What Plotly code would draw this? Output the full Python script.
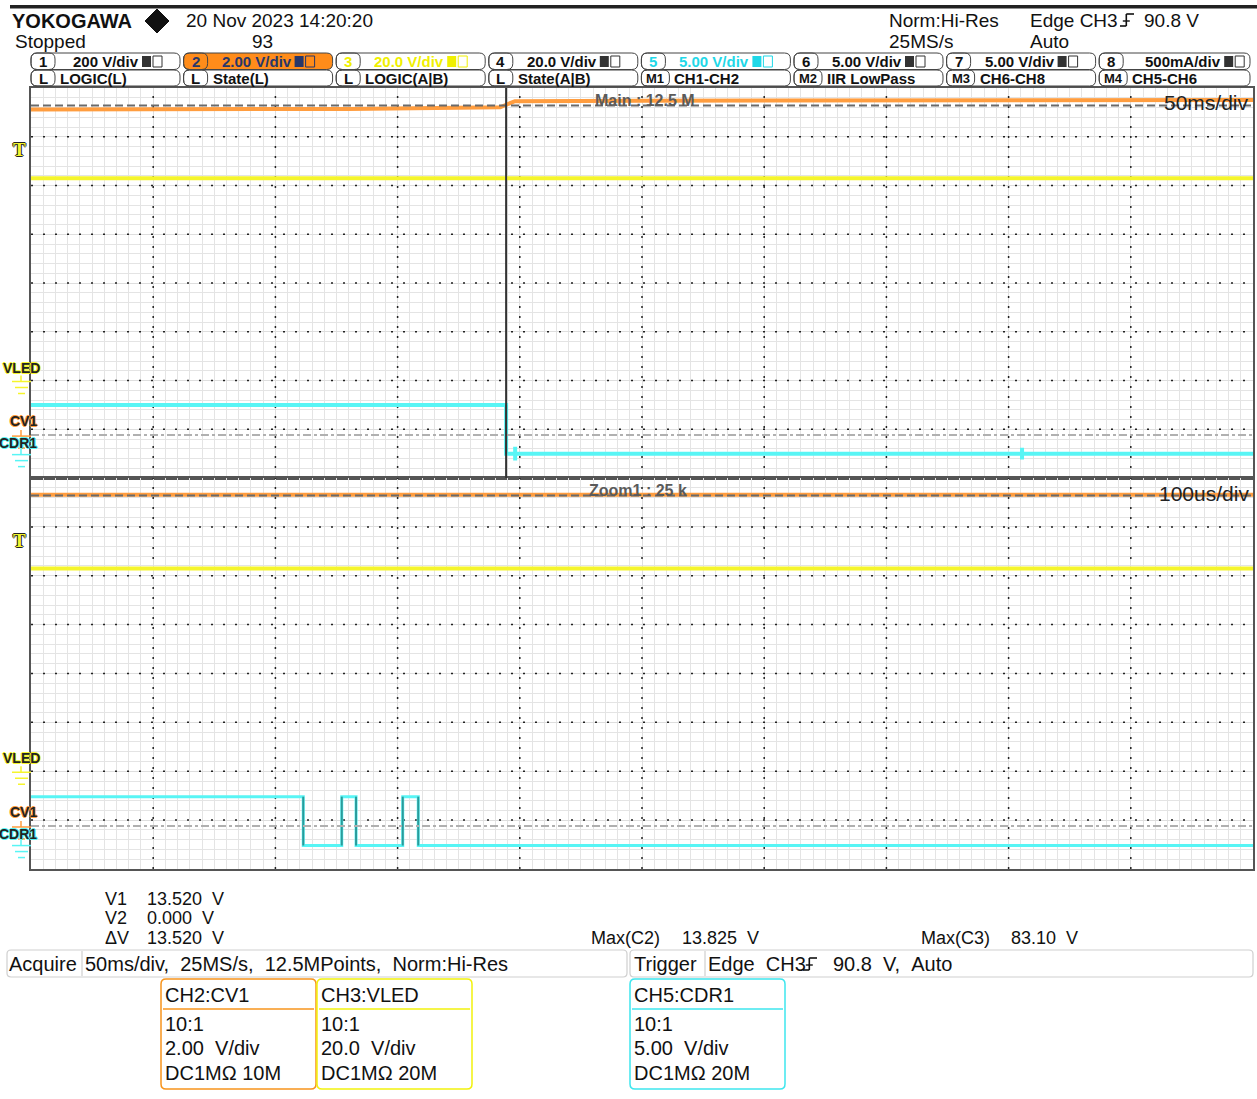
import plotly.graph_objects as go

W, H = 1257, 1099
SANS = "Liberation Sans, Arial, Helvetica, sans-serif"

# ---------------- data ----------------
# Main window (upper panel): time in ms, 50 ms/div
cv1_main_t = [-250.0, -120.0, -58.0, -52.0, 0.0, 250.0]
cv1_main_v = [13.36, 13.38, 13.45, 13.70, 13.72, 13.75]
vled_main_t = [-250.0, 250.0]
vled_main_v = [83.0, 83.0]
cdr1_main_t = [-250.0, -55.6, -55.6, -51.9, -51.9, -51.9, -51.9, 155.5, 155.5, 155.5, 155.5, 250.0]
cdr1_main_v = [5.0, 5.0, -0.02, -0.02, 0.7, -0.7, -0.02, -0.02, 0.6, -0.6, -0.02, -0.02]

# Zoom window (lower panel): time in us relative to zoom centre, 100 us/div
cv1_zoom_t = [-500.0, 500.0]
cv1_zoom_v = [13.55, 13.55]
vled_zoom_t = [-500.0, 500.0]
vled_zoom_v = [83.0, 83.0]
cdr1_zoom_t = [-500.0, -277.2, -277.2, -245.7, -245.7, -234.0, -234.0, -195.8, -195.8, -183.1, -183.1, 500.0]
cdr1_zoom_v = [4.9, 4.9, -0.1, -0.1, 4.9, 4.9, -0.1, -0.1, 4.9, 4.9, -0.1, -0.1]

zoom_pos_ms = -55.6
cursor_v1 = 13.52
cursor_v2 = 0.0

# channel label row texts
ch_scale_labels = ["200 V/div", "2.00 V/div", "20.0 V/div", "20.0 V/div",
                   "5.00 V/div", "5.00 V/div", "5.00 V/div", "500mA/div"]
ch_numbers = ["1", "2", "3", "4", "5", "6", "7", "8"]
row2_tags = ["L", "L", "L", "L", "M1", "M2", "M3", "M4"]
row2_labels = ["LOGIC(L)", "State(L)", "LOGIC(A|B)", "State(A|B)",
               "CH1-CH2", "IIR LowPass", "CH6-CH8", "CH5-CH6"]

# ---------------- styling ----------------
ORANGE = "#ff9d3f"
YELLOW = "#f5f52c"
CYAN = "#58f5f5"
TEAL = "#2b9a9a"
CH = {
    "CV1": dict(vdiv=2.0, pos=-3.12, color=ORANGE),
    "VLED": dict(vdiv=20.0, pos=-2.0, color=YELLOW),
    "CDR1": dict(vdiv=5.0, pos=-3.5, color=CYAN),
}

PX0, PX1 = 31, 1253
UP = (88, 478)
LO = (478, 869)


def X(px):
    return px / W


def Y(py):
    return 1 - py / H


def div(ch, v):
    return [CH[ch]["pos"] + x / CH[ch]["vdiv"] for x in v]


shapes = []
anns = []


def txt(x, y, s, size=19, color="#111", anchor="left", bold=False, family=SANS, shadow=None):
    f = dict(size=size, color=color, family=family)
    if bold:
        f["weight"] = "bold"
    if shadow:
        f["shadow"] = shadow
    anns.append(dict(x=X(x), y=Y(y), xref="paper", yref="paper", text=s, showarrow=False,
                     xanchor=anchor, yanchor="middle", font=f, borderpad=0))


def line(x0, y0, x1, y1, color="#444", width=1, dash="solid"):
    shapes.append(dict(type="line", xref="paper", yref="paper", x0=X(x0), y0=Y(y0), x1=X(x1), y1=Y(y1),
                       line=dict(color=color, width=width, dash=dash), layer="above"))


def rrect(x0, y0, x1, y1, r, color="#444", width=1, fill="rgba(0,0,0,0)"):
    p = (f"M {X(x0 + r)},{Y(y0)} L {X(x1 - r)},{Y(y0)} Q {X(x1)},{Y(y0)} {X(x1)},{Y(y0 + r)} "
         f"L {X(x1)},{Y(y1 - r)} Q {X(x1)},{Y(y1)} {X(x1 - r)},{Y(y1)} "
         f"L {X(x0 + r)},{Y(y1)} Q {X(x0)},{Y(y1)} {X(x0)},{Y(y1 - r)} "
         f"L {X(x0)},{Y(y0 + r)} Q {X(x0)},{Y(y0)} {X(x0 + r)},{Y(y0)} Z")
    shapes.append(dict(type="path", xref="paper", yref="paper", path=p,
                       line=dict(color=color, width=width), fillcolor=fill, layer="above"))


def rect(x0, y0, x1, y1, fill, color=None, width=0):
    shapes.append(dict(type="rect", xref="paper", yref="paper", x0=X(x0), y0=Y(y1), x1=X(x1), y1=Y(y0),
                       fillcolor=fill, line=dict(color=color or fill, width=width), layer="above"))


def edge_symbol(x, y, h=12, w=14, color="#111"):
    # rising-edge trigger glyph
    line(x, y + h / 2, x + w * 0.45, y + h / 2, color, 1.6)
    line(x + w * 0.45, y + h / 2, x + w * 0.45, y - h / 2, color, 1.6)
    line(x + w * 0.45, y - h / 2, x + w, y - h / 2, color, 1.6)
    line(x + w * 0.2, y + 1, x + w * 0.7, y + 1, color, 1.4)


fig = go.Figure()

# ---------------- traces ----------------
panels = [
    ("x", "y", cv1_main_t, cv1_main_v, vled_main_t, vled_main_v, cdr1_main_t, cdr1_main_v, 4),
    ("x2", "y2", cv1_zoom_t, cv1_zoom_v, vled_zoom_t, vled_zoom_v, cdr1_zoom_t, cdr1_zoom_v, 3),
]
for xa, ya, ct, cv, vt, vv, dt, dv, lw in panels:
    fig.add_trace(go.Scatter(x=ct, y=div("CV1", cv), mode="lines", xaxis=xa, yaxis=ya,
                             line=dict(color=ORANGE, width=4), hoverinfo="skip"))
    fig.add_trace(go.Scatter(x=vt, y=div("VLED", vv), mode="lines", xaxis=xa, yaxis=ya,
                             line=dict(color=YELLOW, width=4), hoverinfo="skip"))
    fig.add_trace(go.Scatter(x=dt, y=div("CDR1", dv), mode="lines", xaxis=xa, yaxis=ya,
                             line=dict(color=CYAN, width=lw), hoverinfo="skip"))
    ex, ey = [], []
    ddiv = div("CDR1", dv)
    for i in range(len(dt) - 1):
        if dt[i] == dt[i + 1] and abs(dv[i] - dv[i + 1]) > 2:
            ex += [dt[i], dt[i + 1], None]
            ey += [ddiv[i], ddiv[i + 1], None]
    fig.add_trace(go.Scatter(x=ex, y=ey, mode="lines", xaxis=xa, yaxis=ya,
                             line=dict(color=TEAL, width=2), hoverinfo="skip"))

# cursors (on CH2 scale)
for xa, ya, xr in [("x", "y", (-250, 250)), ("x2", "y2", (-500, 500))]:
    y1 = div("CV1", [cursor_v1])[0]
    y2 = div("CV1", [cursor_v2])[0]
    shapes.append(dict(type="line", xref=xa, yref=ya, x0=xr[0], x1=xr[1], y0=y1, y1=y1,
                       line=dict(color="#6a6a6a", width=2, dash="8px,4px"), layer="above"))
    shapes.append(dict(type="line", xref=xa, yref=ya, x0=xr[0], x1=xr[1], y0=y2, y1=y2,
                       line=dict(color="#b0b0b0", width=2, dash="8px,3px,3px,3px"), layer="above"))

# zoom position marker in the main window
shapes.append(dict(type="line", xref="x", yref="y", x0=zoom_pos_ms, x1=zoom_pos_ms, y0=-4, y1=4,
                   line=dict(color="#333", width=2), layer="above"))

# dotted major grid lines
for xa, ya, xr, step in [("x", "y", (-250, 250), 50), ("x2", "y2", (-500, 500), 100)]:
    for k in range(1, 10):
        xv = xr[0] + k * step
        shapes.append(dict(type="line", xref=xa, yref=ya, x0=xv, x1=xv, y0=-4, y1=4,
                           line=dict(color="#222", width=1.5, dash="2px,8px"), layer="between"))
    for k in range(-3, 4):
        shapes.append(dict(type="line", xref=xa, yref=ya, x0=xr[0], x1=xr[1], y0=k, y1=k,
                           line=dict(color="#222", width=1.5, dash="2px,10px"), layer="between"))

# ---------------- axes ----------------
common_y = dict(range=[-4, 4], dtick=1, tick0=0, showgrid=True, gridcolor="#dedede", gridwidth=1,
                minor=dict(dtick=0.2, showgrid=True, gridcolor="#e4e4e4", gridwidth=1),
                showticklabels=False, ticks="", zeroline=False, showline=True, mirror=True,
                linecolor="#555", linewidth=2, fixedrange=True)
fig.update_layout(
    xaxis=dict(domain=[X(PX0), X(PX1)], range=[-250, 250], dtick=50, tick0=-250, anchor="y",
               showgrid=True, gridcolor="#dedede", minor=dict(dtick=5, showgrid=True, gridcolor="#e4e4e4"),
               showticklabels=False, ticks="", zeroline=False, showline=True, mirror=True,
               linecolor="#555", linewidth=2),
    yaxis=dict(domain=[Y(UP[1]), Y(UP[0])], anchor="x", **common_y),
    xaxis2=dict(domain=[X(PX0), X(PX1)], range=[-500, 500], dtick=100, tick0=-500, anchor="y2",
                showgrid=True, gridcolor="#dedede", minor=dict(dtick=10, showgrid=True, gridcolor="#e4e4e4"),
                showticklabels=False, ticks="", zeroline=False, showline=True, mirror=True,
                linecolor="#555", linewidth=2),
    yaxis2=dict(domain=[Y(LO[1]), Y(LO[0])], anchor="x2", **common_y),
)

# ---------------- panel decorations ----------------
txt(645, 100, "Main : 12.5 M", 16, "#5a5a5a", "center", bold=True)
txt(1250, 103, "50ms/div", 21, "#222", "right")
txt(638, 491, "Zoom1 : 25 k", 16, "#5a5a5a", "center", bold=True)
txt(1250, 494, "100us/div", 21, "#222", "right")


def outline(c):
    return f"1px 0 0 {c}, -1px 0 0 {c}, 0 1px 0 {c}, 0 -1px 0 {c}"


def ground(g, color):
    line(21, g - 5, 21, g + 1, color, 1.5)
    line(12, g + 1, 31, g + 1, color, 1.5)
    line(15, g + 7, 28, g + 7, color, 1.5)
    line(18, g + 13, 25, g + 13, color, 1.5)


for (pt, pb) in (UP, LO):
    ppd = (pb - pt) / 8.0
    cen = (pt + pb) / 2.0
    g = {k: cen - CH[k]["pos"] * ppd for k in CH}
    # trigger marker
    txt(19, pt + 62, "T", 19, YELLOW, "center", bold=True, family="Liberation Serif, serif",
        shadow=outline("#222"))
    ground(g["VLED"], YELLOW)
    ground(g["CV1"], ORANGE)
    ground(g["CDR1"], CYAN)
    txt(41, g["VLED"] - 13, "VLED", 14, "#222", "right", bold=True, shadow=outline(YELLOW))
    txt(38, g["CV1"] - 14, "CV1", 14, "#222", "right", bold=True, shadow=outline(ORANGE))
    txt(38, g["CDR1"] - 10.5, "CDR1", 14, "#222", "right", bold=True, shadow=outline(CYAN))

# ---------------- header ----------------
rect(10, 5, 1257, 8.5, "#222")
txt(11, 21, "YOKOGAWA", 20, "#111", bold=True)
shapes.append(dict(type="path", xref="paper", yref="paper", layer="above",
                   path=f"M {X(157)},{Y(9)} L {X(169)},{Y(21)} L {X(157)},{Y(33)} L {X(145)},{Y(21)} Z",
                   fillcolor="#111", line=dict(color="#111", width=1)))
txt(185, 20, "20 Nov 2023 14:20:20", 19)
txt(14, 42, "Stopped", 19)
txt(262, 41, "93", 19, anchor="center")
txt(888, 20, "Norm:Hi-Res", 19)
txt(888, 41, "25MS/s", 19)
txt(1029, 20, "Edge CH3", 19)
edge_symbol(1120, 20)
txt(1143, 20, "90.8 V", 19)
txt(1029, 41, "Auto", 19)

cell_w = 152.6
text_colors = ["#111", "#27376a", "#f0f000", "#111", "#1fd8e8", "#111", "#111", "#111"]
for k in range(8):
    L = 31 + k * cell_w
    R = L + 149 if k < 7 else 1250
    c = text_colors[k]
    rrect(L, 53, R, 69.5, 6, "#444", 1, fill="#ff8c1a" if k == 1 else "rgba(0,0,0,0)")
    rrect(L, 53, L + 24, 69.5, 6, "#444", 1)
    txt(L + 12, 61.5, ch_numbers[k], 15, c, "center", bold=True)
    xr = L + 109 if k < 7 else L + 123
    txt(xr, 61.5, ch_scale_labels[k], 15, c, "right", bold=True)
    ic = c if k in (1, 2, 4) else "#333"
    rect(xr + 2, 56, xr + 11, 67, ic)
    rect(xr + 13, 56, xr + 22, 67, "rgba(0,0,0,0)", ic, 1)
    # second row
    tw = 28 if row2_tags[k].startswith("M") else 24
    rrect(L, 70, R, 86, 6, "#444", 1)
    rrect(L, 70, L + tw, 86, 6, "#444", 1)
    txt(L + tw / 2, 78, row2_tags[k], 13 if tw == 28 else 15, "#111", "center", bold=True)
    txt(L + tw + 4, 78, row2_labels[k], 15, "#111", "left", bold=True)

# ---------------- bottom info ----------------
txt(104, 899, "V1", 18)
txt(146, 899, "13.520\u00a0\u00a0V", 18)
txt(104, 918, "V2", 18)
txt(146, 918, "0.000\u00a0\u00a0V", 18)
txt(104, 938, "\u0394V", 18)
txt(146, 938, "13.520\u00a0\u00a0V", 18)
txt(590, 938, "Max(C2)", 18)
txt(681, 938, "13.825\u00a0\u00a0V", 18)
txt(920, 938, "Max(C3)", 18)
txt(1010, 938, "83.10\u00a0\u00a0V", 18)

rrect(7, 950, 627, 977, 4, "#cfcfcf", 1.2)
line(82, 951, 82, 976, "#cfcfcf", 1.2)
txt(8, 964, "Acquire", 20)
txt(84, 964, "50ms/div,\u00a0\u00a025MS/s,\u00a0\u00a012.5MPoints,\u00a0\u00a0Norm:Hi-Res", 20)
rrect(630, 950, 1253, 977, 4, "#cfcfcf", 1.2)
line(705, 951, 705, 976, "#cfcfcf", 1.2)
txt(633, 964, "Trigger", 20)
txt(707, 964, "Edge\u00a0\u00a0CH3", 20)
edge_symbol(803, 964)
txt(832, 964, "90.8\u00a0\u00a0V,\u00a0\u00a0Auto", 20)

boxes = [
    (161, 316, "#f7941d", ["CH2:CV1", "10:1", "2.00\u00a0\u00a0V/div", "DC1M\u03a9\u00a010M"]),
    (317, 472, "#f2f20c", ["CH3:VLED", "10:1", "20.0\u00a0\u00a0V/div", "DC1M\u03a9\u00a020M"]),
    (630, 785, "#3ee6ee", ["CH5:CDR1", "10:1", "5.00\u00a0\u00a0V/div", "DC1M\u03a9\u00a020M"]),
]
for x0, x1, col, lines_ in boxes:
    rrect(x0, 979, x1, 1089, 5, col, 1.5)
    line(x0 + 2, 1009, x1 - 2, 1009, col, 1.5)
    for yy, s in zip([995, 1024, 1048, 1073], lines_):
        txt(x0 + 3, yy, s, 20)

fig.update_layout(width=W, height=H, margin=dict(l=0, r=0, t=0, b=0),
                  paper_bgcolor="white", plot_bgcolor="white", showlegend=False,
                  shapes=shapes, annotations=anns, hovermode=False)

fig.write_html("out.html", config={"displayModeBar": False, "staticPlot": True},
               post_script="document.body.style.margin='0px';document.body.style.padding='0px';"
                           "document.body.style.overflow='hidden';")
